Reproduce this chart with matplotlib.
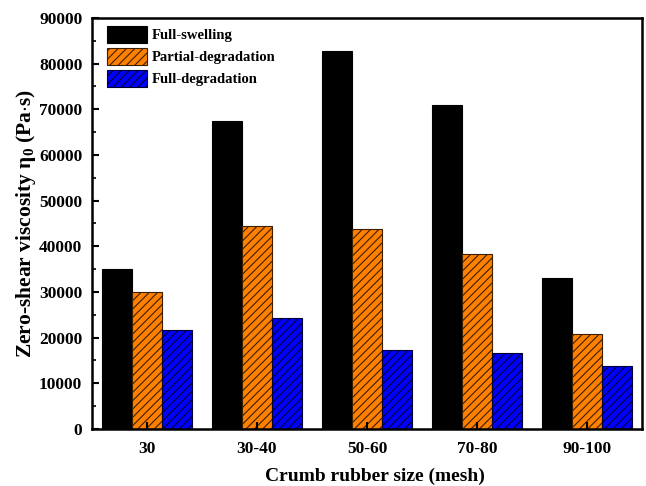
import numpy as np
import matplotlib.pyplot as plt
from matplotlib.ticker import MultipleLocator

sizes = ['30', '30-40', '50-60', '70-80', '90-100']
full_swelling = [35000, 67500, 82700, 71000, 33100]
partial_degradation = [29900, 44400, 43900, 38400, 20900]
full_degradation = [21600, 24300, 17400, 16600, 13900]

plt.rcParams['font.family'] = ['Liberation Serif', 'DejaVu Serif']
plt.rcParams['font.weight'] = 'bold'
plt.rcParams['mathtext.fontset'] = 'custom'
plt.rcParams['mathtext.rm'] = 'Liberation Serif:bold'
plt.rcParams['mathtext.it'] = 'Liberation Serif:bold'
plt.rcParams['mathtext.bf'] = 'Liberation Serif:bold'
plt.rcParams['hatch.linewidth'] = 0.8

fig = plt.figure(figsize=(6.46, 4.86), dpi=100)
ax = fig.add_axes([0.1424, 0.1173, 0.8514, 0.8457])

x = np.arange(len(sizes))
w = 0.27
ax.bar(x - w, full_swelling, w, color='black', edgecolor='black', linewidth=0.8, label='Full-swelling')
ax.bar(x, partial_degradation, w, color='#ff8000', edgecolor='#3a1f00', hatch='////', linewidth=0.8, label='Partial-degradation')
ax.bar(x + w, full_degradation, w, color='#0000ff', edgecolor='#000033', hatch='////', linewidth=0.8, label='Full-degradation')

ax.set_xlim(-0.5, 4.5)
ax.set_ylim(0, 90000)
ax.set_xticks(x)
ax.set_xticklabels(sizes)
ax.yaxis.set_major_locator(MultipleLocator(10000))
ax.yaxis.set_minor_locator(MultipleLocator(5000))
ax.tick_params(axis='both', which='major', direction='in', length=5, width=1.5, labelsize=12.5, pad=7)
ax.tick_params(axis='x', which='major', pad=9)
ax.tick_params(axis='y', which='minor', direction='in', length=3, width=1.2)
for s in ax.spines.values():
    s.set_linewidth(1.8)

ax.set_xlabel('Crumb rubber size (mesh)', fontsize=14, fontweight='bold', labelpad=7)
ax.xaxis.set_label_coords(0.515, -0.095)
ax.set_ylabel(r'Zero-shear viscosity $\eta_0$ (Pa$\cdot$s)', fontsize=15.5, fontweight='bold', labelpad=1)

ax.legend(loc='upper left', bbox_to_anchor=(0.027, 0.98), frameon=False, fontsize=10.5,
          handlelength=2.75, handleheight=1.4, labelspacing=0.35, handletextpad=0.35,
          borderaxespad=0, borderpad=0)

fig.savefig('out.png', dpi=100)
